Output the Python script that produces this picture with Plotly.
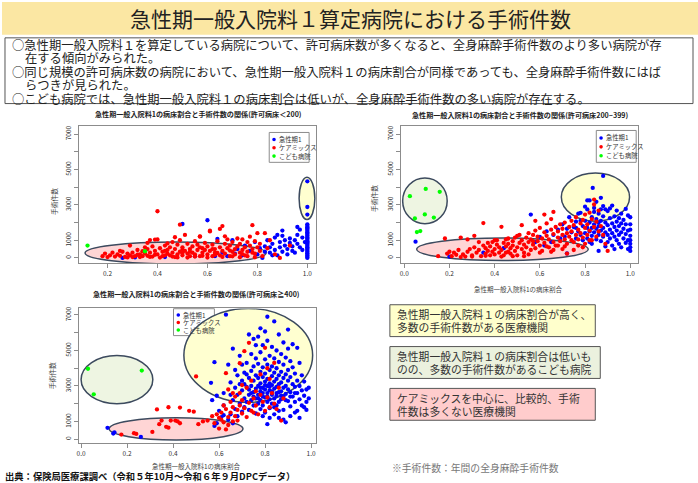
import plotly.graph_objects as go

W, H = 698, 483
FONT = "Noto Sans CJK JP"

# (病床割合, 全身麻酔手術件数) per hospital
# 許可病床<200
small_acute = [
    (1.0, 0), (1.0, 50), (1.0, 120), (1.0, 180), (1.0, 260), (1.0, 330), (1.0, 390), (1.0, 470),
    (1.0, 540), (1.0, 600), (1.0, 680), (1.0, 740), (1.0, 810), (1.0, 890), (1.0, 950), (1.0, 1020),
    (1.0, 1100), (1.0, 1160), (1.0, 1240), (1.0, 1300), (1.0, 1380), (1.0, 1450), (1.0, 1520),
    (1.0, 1600), (1.0, 1660), (1.0, 1740), (1.0, 1810), (1.0, 1900), (1.0, 2450), (1.0, 2880), (1.0, 4330),
    (0.26, 0), (0.31, 30), (0.43, 50), (0.50, 1920), (0.55, 100), (0.60, 2130), (0.63, 100), (0.64, 1070),
    (0.66, 300), (0.68, 100), (0.70, 1000), (0.71, 250), (0.72, 500), (0.74, 150), (0.75, 700), (0.77, 400),
    (0.79, 900), (0.80, 200), (0.81, 550), (0.82, 0), (0.83, 650), (0.84, 1000), (0.85, 300), (0.86, 800),
    (0.87, 1150), (0.87, 450), (0.88, 1300), (0.88, 150), (0.89, 600), (0.89, 900), (0.90, 1550), (0.90, 350),
    (0.91, 700), (0.91, 1000), (0.92, 200), (0.92, 500), (0.93, 850), (0.93, 1100), (0.94, 400), (0.94, 650),
    (0.95, 1000), (0.95, 300), (0.96, 1300), (0.96, 800), (0.97, 600), (0.97, 1600), (0.98, 1150), (0.98, 450),
    (0.99, 900), (0.85, 600), (0.83, 350), (0.86, 150), (0.96, 1750), (0.90, 1250),
]
small_care = [
    (0.18, 100), (0.19, 250), (0.20, 50), (0.21, 150), (0.22, 300), (0.23, 80), (0.24, 200), (0.25, 120),
    (0.26, 350), (0.27, 60), (0.28, 250), (0.29, 700), (0.29, 150), (0.30, 300), (0.31, 100), (0.32, 450),
    (0.33, 200), (0.33, 50), (0.34, 380), (0.35, 250), (0.36, 120), (0.36, 500), (0.37, 300), (0.38, 80),
    (0.38, 650), (0.39, 400), (0.40, 200), (0.40, 1050), (0.41, 550), (0.42, 100), (0.42, 350), (0.43, 700),
    (0.44, 250), (0.44, 450), (0.45, 150), (0.45, 600), (0.46, 300), (0.46, 900), (0.47, 50), (0.47, 500),
    (0.48, 200), (0.48, 750), (0.49, 350), (0.49, 1000), (0.50, 150), (0.50, 600), (0.51, 400), (0.51, 1300),
    (0.52, 250), (0.52, 800), (0.53, 100), (0.53, 500), (0.54, 650), (0.54, 300), (0.55, 950), (0.55, 200),
    (0.56, 450), (0.56, 750), (0.57, 100), (0.57, 1200), (0.58, 550), (0.58, 300), (0.59, 850), (0.60, 200),
    (0.60, 650), (0.61, 400), (0.61, 1500), (0.62, 100), (0.62, 750), (0.63, 500), (0.63, 300), (0.64, 950),
    (0.65, 150), (0.65, 600), (0.66, 1800), (0.66, 400), (0.67, 800), (0.67, 250), (0.68, 1050), (0.68, 550),
    (0.69, 100), (0.69, 700), (0.70, 350), (0.70, 900), (0.71, 500), (0.71, 200), (0.72, 1100), (0.72, 650),
    (0.73, 300), (0.73, 800), (0.74, 450), (0.74, 1050), (0.75, 150), (0.75, 600), (0.76, 900), (0.76, 350),
    (0.77, 700), (0.77, 1200), (0.78, 1850), (0.78, 500), (0.79, 250), (0.79, 950), (0.80, 600), (0.80, 1400),
    (0.81, 400), (0.81, 800), (0.82, 100), (0.83, 1400), (0.84, 550), (0.85, 1000), (0.87, 200), (0.89, 0),
    (0.93, 700), (0.40, 2640), (0.49, 1880), (0.65, 1640), (0.61, 1540), (0.47, 1170), (0.39, 1040),
    (0.37, 1010), (0.57, 1220), (0.67, 1220), (0.30, 50), (0.32, 180), (0.34, 100), (0.37, 60), (0.39, 180),
    (0.41, 20), (0.43, 150), (0.46, 80), (0.48, 30), (0.50, 280), (0.52, 20), (0.55, 80), (0.58, 120),
    (0.60, 20), (0.63, 180), (0.66, 60), (0.70, 90), (0.73, 40), (0.76, 100), (0.79, 40), (0.25, 400),
    (0.28, 30), (0.35, 600), (0.43, 400), (0.53, 350), (0.59, 450), (0.64, 280), (0.69, 420), (0.74, 220),
    (0.78, 300), (0.57, 600), (0.62, 500), (0.44, 820), (0.50, 470), (0.36, 850),
]
small_child = [(0.12, 700), (0.35, 380)]

# 許可病床200~399
mid_acute = [
    (0.05, 920), (0.20, 70), (0.35, 300), (0.44, 550), (0.56, 2450), (0.60, 1190), (0.72, 260), (0.58, 900),
    (0.62, 700), (0.66, 1300), (0.68, 1600), (0.70, 1900), (0.71, 1200), (0.73, 2300), (0.74, 1450),
    (0.75, 1750), (0.76, 2050), (0.76, 1100), (0.77, 1500), (0.77, 2500), (0.78, 2550), (0.78, 1300),
    (0.79, 1800), (0.79, 1000), (0.80, 2100), (0.80, 1400), (0.81, 2740), (0.81, 1700), (0.81, 1100),
    (0.82, 3250), (0.82, 2000), (0.82, 1500), (0.83, 2300), (0.83, 1250), (0.83, 800), (0.84, 2830),
    (0.84, 1900), (0.84, 1450), (0.85, 3170), (0.85, 2200), (0.85, 1650), (0.85, 1050), (0.86, 2500),
    (0.86, 1800), (0.86, 1300), (0.86, 400), (0.87, 2100), (0.87, 1550), (0.87, 950), (0.88, 2930),
    (0.88, 4635), (0.88, 2350), (0.88, 1700), (0.88, 1200), (0.89, 2000), (0.89, 1450), (0.89, 650),
    (0.90, 2650), (0.90, 1850), (0.90, 1300), (0.90, 900), (0.91, 2250), (0.91, 1600), (0.91, 1100),
    (0.92, 2960), (0.92, 1950), (0.92, 1400), (0.92, 700), (0.93, 2350), (0.93, 1750), (0.93, 1200),
    (0.93, 500), (0.94, 2680), (0.94, 2050), (0.94, 1550), (0.94, 1000), (0.95, 2250), (0.95, 1800),
    (0.95, 1300), (0.95, 800), (0.96, 2500), (0.96, 1950), (0.96, 1450), (0.96, 600), (0.97, 2150),
    (0.97, 1650), (0.97, 1100), (0.98, 2770), (0.98, 1900), (0.98, 1350), (0.98, 850), (0.99, 2400),
    (0.99, 1550), (0.99, 1000), (0.99, 500), (1.00, 2300), (1.00, 1900), (1.00, 1600), (1.00, 1250),
    (1.00, 1000), (1.00, 800), (1.00, 600), (1.00, 400), (0.834, 3960), (0.81, 3250), (0.87, 3400),
    (0.80, 2900), (0.84, 2600), (0.89, 2750), (0.83, 1700), (0.87, 2750), (0.91, 2800), (0.76, 1700),
    (0.72, 1650), (0.69, 1100), (0.65, 900), (0.63, 1500), (0.78, 2100), (0.82, 900), (0.86, 2000),
]
mid_care = [
    (0.15, 100), (0.18, 1100), (0.19, 250), (0.20, 350), (0.21, 100), (0.22, 300), (0.23, 180), (0.24, 450),
    (0.25, 1150), (0.26, 200), (0.27, 80), (0.28, 1050), (0.28, 350), (0.29, 500), (0.30, 150), (0.31, 1250),
    (0.31, 600), (0.32, 300), (0.33, 450), (0.34, 100), (0.35, 1970), (0.35, 700), (0.36, 250), (0.36, 550),
    (0.37, 400), (0.37, 850), (0.38, 150), (0.38, 650), (0.39, 350), (0.39, 900), (0.40, 500), (0.40, 200),
    (0.41, 750), (0.41, 1000), (0.42, 300), (0.42, 600), (0.43, 1760), (0.43, 450), (0.44, 850), (0.44, 150),
    (0.45, 650), (0.45, 1050), (0.46, 350), (0.46, 800), (0.47, 550), (0.47, 250), (0.48, 950), (0.48, 700),
    (0.49, 400), (0.49, 1150), (0.50, 600), (0.50, 150), (0.51, 850), (0.51, 1300), (0.52, 500), (0.52, 1000),
    (0.53, 300), (0.53, 750), (0.54, 1150), (0.54, 600), (0.55, 900), (0.55, 1400), (0.56, 450), (0.56, 1050),
    (0.57, 750), (0.57, 1300), (0.58, 1550), (0.58, 550), (0.59, 950), (0.59, 1200), (0.60, 1700), (0.60, 700),
    (0.61, 1100), (0.61, 400), (0.62, 1450), (0.62, 850), (0.63, 1250), (0.63, 1950), (0.64, 600), (0.64, 1050),
    (0.65, 1600), (0.65, 2200), (0.66, 900), (0.66, 1350), (0.67, 1750), (0.67, 700), (0.68, 1150), (0.68, 1500),
    (0.69, 1900), (0.69, 950), (0.70, 1300), (0.70, 1650), (0.71, 1050), (0.71, 2000), (0.72, 1400), (0.72, 800),
    (0.73, 1750), (0.73, 1200), (0.74, 2100), (0.74, 1500), (0.75, 900), (0.75, 1850), (0.76, 1300), (0.76, 2300),
    (0.77, 1600), (0.77, 1050), (0.78, 1950), (0.78, 1400), (0.79, 2150), (0.79, 1150), (0.80, 1700), (0.80, 2450),
    (0.81, 1300), (0.81, 1900), (0.82, 2560), (0.82, 1550), (0.83, 2200), (0.83, 1000), (0.84, 3020), (0.84, 1750),
    (0.85, 1200), (0.85, 2050), (0.86, 2680), (0.86, 1500), (0.87, 1800), (0.88, 1300), (0.89, 800), (0.90, 400),
    (0.84, 3300), (0.80, 800), (0.52, 1850), (0.58, 2100), (0.62, 2450), (0.66, 2600), (0.45, 300), (0.48, 100),
    (0.55, 200), (0.60, 300), (0.65, 350), (0.70, 500), (0.72, 250), (0.75, 450), (0.33, 900), (0.40, 1000),
    (0.46, 1100), (0.50, 1250), (0.57, 950), (0.63, 650), (0.68, 700), (0.53, 100), (0.43, 80), (0.36, 120),
    (0.30, 80), (0.25, 50), (0.66, 450), (0.71, 650), (0.77, 700), (0.79, 600), (0.82, 1000), (0.74, 1000),
]
mid_child = [(0.025, 3490), (0.095, 3900), (0.157, 3735), (0.047, 2235), (0.091, 2460), (0.131, 2280),
             (0.056, 1460), (0.071, 1520)]

# 許可病床>=400
large_acute = [
    (0.115, 640), (0.14, 320), (0.145, 390), (0.26, 130), (0.58, 750), (0.59, 900), (0.61, 1250), (0.62, 1900),
    (0.63, 7020), (0.64, 1100), (0.65, 1400), (0.65, 3200), (0.66, 900), (0.66, 2200), (0.67, 1700), (0.67, 3900),
    (0.68, 2500), (0.68, 1300), (0.69, 4700), (0.69, 2000), (0.70, 3300), (0.70, 1550), (0.70, 2750), (0.71, 3750),
    (0.71, 2300), (0.71, 1800), (0.72, 4300), (0.72, 2950), (0.72, 2100), (0.73, 5900), (0.73, 3450), (0.73, 2500),
    (0.73, 1650), (0.74, 4800), (0.74, 3850), (0.74, 3000), (0.74, 2200), (0.75, 5650), (0.75, 4100), (0.75, 3300),
    (0.75, 2650), (0.75, 1900), (0.76, 4550), (0.76, 3600), (0.76, 2850), (0.76, 2300), (0.76, 1450), (0.77, 5780),
    (0.77, 4250), (0.77, 3450), (0.77, 3000), (0.77, 2500), (0.77, 2000), (0.78, 6250), (0.78, 4900), (0.78, 3800),
    (0.78, 3150), (0.78, 2700), (0.78, 2200), (0.78, 1700), (0.79, 5300), (0.79, 4050), (0.79, 3500), (0.79, 2900),
    (0.79, 2400), (0.79, 1900), (0.80, 6070), (0.80, 4500), (0.80, 3700), (0.80, 3250), (0.80, 2800), (0.80, 2350),
    (0.80, 1500), (0.81, 6900), (0.81, 5550), (0.81, 4200), (0.81, 3400), (0.81, 3000), (0.81, 2600), (0.81, 2100),
    (0.81, 850), (0.82, 4700), (0.82, 3900), (0.82, 3150), (0.82, 2750), (0.82, 2250), (0.82, 1750), (0.83, 5200),
    (0.83, 4100), (0.83, 3550), (0.83, 3050), (0.83, 2500), (0.83, 2000), (0.84, 6640), (0.84, 4550), (0.84, 3750),
    (0.84, 3250), (0.84, 2850), (0.84, 2300), (0.84, 1400), (0.85, 5000), (0.85, 4000), (0.85, 3400), (0.85, 2950),
    (0.85, 2450), (0.85, 1900), (0.86, 5900), (0.86, 4350), (0.86, 3600), (0.86, 3100), (0.86, 2650), (0.86, 2100),
    (0.86, 1200), (0.87, 4800), (0.87, 3800), (0.87, 3200), (0.87, 2700), (0.87, 2250), (0.88, 5450), (0.88, 4200),
    (0.88, 3450), (0.88, 2900), (0.88, 2400), (0.88, 1650), (0.89, 4600), (0.89, 3650), (0.89, 3000), (0.89, 2550),
    (0.89, 950), (0.90, 6180), (0.90, 5100), (0.90, 3900), (0.90, 3300), (0.90, 2800), (0.90, 2150), (0.91, 4400),
    (0.91, 3500), (0.91, 2650), (0.91, 1850), (0.92, 5350), (0.92, 4050), (0.92, 3100), (0.92, 2400), (0.93, 3700),
    (0.93, 2950), (0.93, 2100), (0.94, 5150), (0.94, 3300), (0.94, 2600), (0.94, 1600), (0.95, 4300), (0.95, 3000),
    (0.95, 2250), (0.96, 3600), (0.96, 2750), (0.96, 1900), (0.97, 3250), (0.97, 2450), (0.98, 2800), (0.98, 2100),
    (0.98, 1650), (0.99, 2900), (0.99, 2300), (0.62, 2600), (0.64, 4200), (0.66, 5100), (0.68, 3600), (0.70, 4200),
    (0.72, 3650), (0.74, 2600), (0.76, 5300), (0.79, 1300), (0.82, 1200), (0.84, 1800), (0.86, 1600), (0.88, 1100),
    (0.91, 1300), (0.93, 1500), (0.95, 1200), (0.97, 1800), (0.60, 1600), (0.62, 1350), (0.65, 2500), (0.67, 2900),
    (0.69, 3100), (0.71, 3100), (0.73, 2800), (0.75, 2400), (0.77, 2300), (0.79, 2600), (0.81, 2400), (0.83, 2700),
    (0.85, 2600), (0.87, 2450), (0.89, 2200), (0.91, 2400), (0.93, 2600), (0.78, 2900), (0.80, 3050), (0.82, 2950),
    (0.58, 4340), (0.565, 3180), (0.59, 2450), (0.57, 2200),
]
large_care = [
    (0.175, 260), (0.23, 340), (0.24, 300), (0.31, 410), (0.33, 1680), (0.34, 850), (0.35, 1050), (0.37, 700),
    (0.38, 1800), (0.38, 650), (0.39, 1050), (0.41, 1050), (0.42, 1000), (0.43, 1780), (0.43, 900), (0.47, 1600),
    (0.49, 1550), (0.51, 850), (0.55, 1050), (0.58, 900), (0.50, 3540), (0.59, 1400), (0.60, 1200), (0.60, 600),
    (0.61, 1500), (0.62, 1900), (0.62, 950), (0.63, 3720), (0.63, 1700), (0.63, 550), (0.64, 1250), (0.64, 800),
    (0.65, 2100), (0.65, 1500), (0.66, 1000), (0.66, 1800), (0.67, 1300), (0.67, 2400), (0.68, 1650), (0.68, 1050),
    (0.69, 4280), (0.69, 1900), (0.70, 1450), (0.70, 2200), (0.71, 4960), (0.71, 1750), (0.72, 2900), (0.72, 1250),
    (0.73, 5430), (0.73, 2050), (0.74, 1600), (0.74, 3300), (0.75, 2300), (0.75, 1500), (0.76, 1900), (0.76, 2700),
    (0.77, 1400), (0.78, 2500), (0.78, 3650), (0.79, 2100), (0.80, 5150), (0.80, 1600), (0.81, 4000), (0.81, 2350),
    (0.82, 3400), (0.82, 1800), (0.83, 2600), (0.84, 4300), (0.84, 2000), (0.85, 1700), (0.86, 2900), (0.87, 1050),
    (0.88, 2300), (0.64, 2800), (0.61, 1100), (0.57, 1300), (0.53, 1000), (0.66, 2600), (0.69, 2600), (0.70, 3050),
]
large_child = [(0.03, 3970), (0.264, 3870), (0.055, 2530)]

group_names = ["急性期1", "ケアミックス", "こども病院"]
group_colors = ["#0000FF", "#FF0000", "#00FF00"]

count_ticks = [0, 1000, 2000, 3000, 4000, 5000, 6000, 7000]
count_labels = ["0", "1000", "", "3000", "", "5000", "", "7000"]

panels = [
    dict(n="", data=[small_acute, small_care, small_child],
         title="急性期一般入院料1の病床割合と手術件数の関係(許可病床＜200)",
         box=(77, 315, 125, 262), xr=[0.085, 1.035], yr=[-280, 7430],
         xt=[0.2, 0.4, 0.6, 0.8, 1.0], title_xy=(197, 112), ytitle_xy=(52, 200), xtitle_xy=None,
         legend=(268, 308, 131, 161)),
    dict(n="2", data=[mid_acute, mid_care, mid_child],
         title="急性期一般入院料1の病床割合と手術件数の関係(許可病床200~399)",
         box=(400, 638, 125, 262), xr=[-0.015, 1.035], yr=[-280, 7430],
         xt=[0.0, 0.2, 0.4, 0.6, 0.8, 1.0], title_xy=(520, 113), ytitle_xy=(373, 197), xtitle_xy=(518, 288),
         legend=(596, 636, 129, 161)),
    dict(n="3", data=[large_acute, large_care, large_child],
         title="急性期一般入院料1の病床割合と手術件数の関係(許可病床≧400)",
         box=(77, 315, 307.7, 443.3), xr=[-0.01, 1.022], yr=[-240, 7370],
         xt=[0.0, 0.2, 0.4, 0.6, 0.8, 1.0], title_xy=(195, 293), ytitle_xy=(51, 375), xtitle_xy=(195, 466),
         legend=(172, 213, 308, 335)),
]

# highlighted groups: (panel, fill, x0, x1, y0, y1)
ellipses = [
    ("", "#FFD5D5", 0.11, 0.835, -340, 905),
    ("", "#FFFFD0", 0.967, 1.030, 2170, 4560),
    ("2", "#EEF5E2", -0.007, 0.19, 1930, 4520),
    ("2", "#FFFFD0", 0.695, 0.997, 2080, 4800),
    ("2", "#FFD5D5", 0.055, 0.814, -150, 1130),
    ("3", "#EEF5E2", 0.0, 0.312, 2000, 4720),
    ("3", "#FFFFD0", 0.447, 1.007, 2080, 7370),
    ("3", "#FFD5D5", 0.122, 0.704, -40, 1210),
]

fig = go.Figure()


def px(x):
    return x / W


def py(y):
    return 1 - y / H


def text(x, y, s, size, color="#222", anchor="left", angle=0):
    fig.add_annotation(x=px(x), y=py(y), xref="paper", yref="paper", text=s, showarrow=False,
                       xanchor=anchor, yanchor="middle", textangle=angle,
                       font=dict(size=size, color=color, family=FONT), borderpad=0)


def rect(x0, x1, y0, y1, fill, line="#555", lw=1):
    fig.add_shape(type="rect", xref="paper", yref="paper", x0=px(x0), x1=px(x1), y0=py(y1), y1=py(y0),
                  fillcolor=fill, line=dict(color=line, width=lw), layer="below")


# title band and summary box
rect(0, 698, 0, 33, "#FBE7A3", lw=0)
text(349, 16, "急性期一般入院料１算定病院における手術件数", 21, "#222", "center")
rect(3, 693, 36, 102, "rgba(0,0,0,0)", "#555")
lines = [
    (9, 43, "○急性期一般入院料１を算定している病院について、許可病床数が多くなると、全身麻酔手術件数のより多い病院が存"),
    (22, 56.5, "在する傾向がみられた。"),
    (9, 70, "○同じ規模の許可病床数の病院において、急性期一般入院料１の病床割合が同様であっても、全身麻酔手術件数にはば"),
    (22, 83.5, "らつきが見られた。"),
    (9, 97, "○こども病院では、急性期一般入院料１の病床割合は低いが、全身麻酔手術件数の多い病院が存在する。"),
]
for x, y, s in lines:
    text(x, y, s, 12.3)

for p in panels:
    n = p["n"]
    x0, x1, y0, y1 = p["box"]
    for pts, name, col in zip(p["data"], group_names, group_colors):
        xs, ys = zip(*pts)
        fig.add_trace(go.Scatter(x=xs, y=ys, mode="markers", name=name, showlegend=False,
                                 marker=dict(color=col, size=4.3, line=dict(width=0)),
                                 xaxis="x" + n, yaxis="y" + n, hoverinfo="skip"))
    ax = dict(showline=True, mirror=True, linecolor="#8C8C8C", linewidth=1, showgrid=False, zeroline=False,
              ticks="outside", ticklen=4, tickcolor="#8C8C8C", tickfont=dict(size=6.5, color="#333", family=FONT))
    fig.update_layout(**{
        "xaxis" + n: dict(ax, domain=[px(x0), px(x1)], anchor="y" + n, range=p["xr"],
                          tickvals=p["xt"], ticktext=["%.1f" % v for v in p["xt"]]),
        "yaxis" + n: dict(ax, domain=[py(y1), py(y0)], anchor="x" + n, range=p["yr"],
                          tickvals=count_ticks, ticktext=count_labels, tickangle=-90),
    })
    text(p["title_xy"][0], p["title_xy"][1], "<b>" + p["title"] + "</b>", 7.1, "#222", "center")
    text(p["ytitle_xy"][0], p["ytitle_xy"][1], "手術件数", 6.8, "#444", "center", -90)
    if p["xtitle_xy"]:
        text(p["xtitle_xy"][0], p["xtitle_xy"][1], "急性期一般入院料1の病床割合", 6.5, "#444", "center")
    lx0, lx1, ly0, ly1 = p["legend"]
    rect(lx0, lx1, ly0, ly1, "white", "#8C8C8C")
    step = (ly1 - ly0) / 3.6
    for i, (name, col) in enumerate(zip(group_names, group_colors)):
        cy = ly0 + step * (0.85 + i)
        fig.add_shape(type="circle", xref="paper", yref="paper", x0=px(lx0 + 3), x1=px(lx0 + 6.6),
                      y0=py(cy + 1.8), y1=py(cy - 1.8), fillcolor=col, line_width=0, layer="below")
        text(lx0 + 8.5, cy, name, 6.3, "#333")

for n, fill, ex0, ex1, ey0, ey1 in ellipses:
    fig.add_shape(type="circle", xref="x" + n, yref="y" + n, x0=ex0, x1=ex1, y0=ey0, y1=ey1,
                  fillcolor=fill, line=dict(color="#3C4A5E", width=1.5), layer="below")

# explanation boxes
notes = [
    ((389, 595, 304, 336), "#FFFFCC", ["急性期一般入院料１の病床割合が高く、", "多数の手術件数がある医療機関"]),
    ((389, 600, 346, 378), "#EBF1DE", ["急性期一般入院料１の病床割合は低いも", "のの、多数の手術件数があるこども病院"]),
    ((389, 595, 388, 420), "#FFCCCC", ["ケアミックスを中心に、比較的、手術", "件数は多くない医療機関"]),
]
for (bx0, bx1, by0, by1), fill, ls in notes:
    rect(bx0, bx1, by0, by1, fill, "#555")
    mid = (by0 + by1) / 2
    text(395, mid - 6.3, ls[0], 10.8, "#333")
    text(395, mid + 6.3, ls[1], 10.8, "#333")

text(390, 468, "※手術件数：年間の全身麻酔手術件数", 9.8, "#777")
text(2, 476, "<b>出典：保険局医療課調べ（令和５年10月～令和６年９月DPCデータ）</b>", 9.3, "#111")

fig.update_layout(width=W, height=H, margin=dict(l=0, r=0, t=0, b=0),
                  paper_bgcolor="white", plot_bgcolor="rgba(0,0,0,0)",
                  font=dict(family=FONT), showlegend=False)

# the page body keeps an 8px margin by default; drop it so the slide sits at the corner
fig.write_html("out.html", config={"displayModeBar": False},
               post_script="document.body.style.margin='0';")
